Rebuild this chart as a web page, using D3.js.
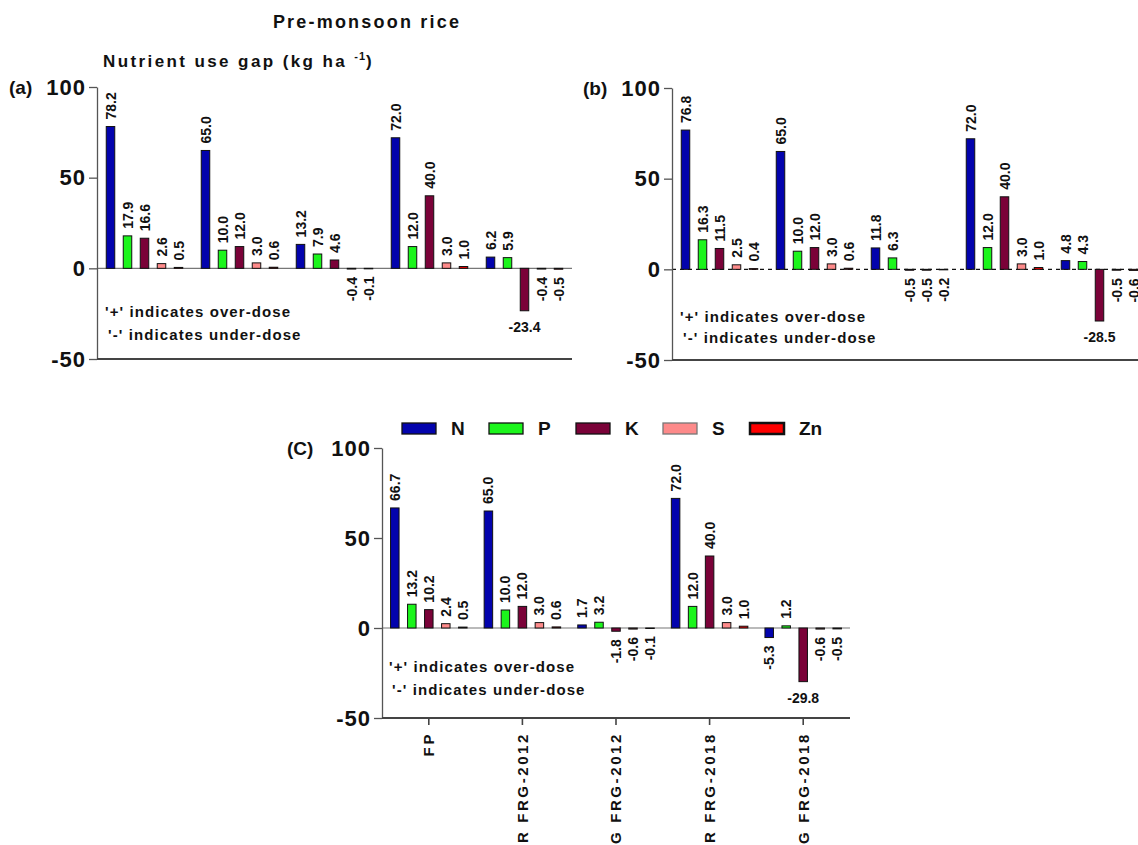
<!DOCTYPE html>
<html>
<head>
<meta charset="utf-8">
<script src="https://cdn.jsdelivr.net/npm/d3@7"></script>
<style>
  html, body { margin: 0; padding: 0; background: #fff; }
  svg { display: block; font-family: "Liberation Sans", Arial, sans-serif; }
</style>
</head>
<body>
<svg id="chart" width="1138" height="845"></svg>
<script>
// ---------------- DATA ----------------
const categories = ["FP", "R FRG-2012", "G FRG-2012", "R FRG-2018", "G FRG-2018"];
const nutrients = ["N", "P", "K", "S", "Zn"];
const yTicks = [-50, 0, 50, 100];

// values per nutrient (rows N,P,K,S,Zn) across categories
const panelA_N  = [78.2, 65.0, 13.2, 72.0, 6.2];
const panelA_P  = [17.9, 10.0, 7.9, 12.0, 5.9];
const panelA_K  = [16.6, 12.0, 4.6, 40.0, -23.4];
const panelA_S  = [2.6, 3.0, -0.4, 3.0, -0.4];
const panelA_Zn = [0.5, 0.6, -0.1, 1.0, -0.5];

const panelB_N  = [76.8, 65.0, 11.8, 72.0, 4.8];
const panelB_P  = [16.3, 10.0, 6.3, 12.0, 4.3];
const panelB_K  = [11.5, 12.0, -0.5, 40.0, -28.5];
const panelB_S  = [2.5, 3.0, -0.5, 3.0, -0.5];
const panelB_Zn = [0.4, 0.6, -0.2, 1.0, -0.6];

const panelC_N  = [66.7, 65.0, 1.7, 72.0, -5.3];
const panelC_P  = [13.2, 10.0, 3.2, 12.0, 1.2];
const panelC_K  = [10.2, 12.0, -1.8, 40.0, -29.8];
const panelC_S  = [2.4, 3.0, -0.6, 3.0, -0.6];
const panelC_Zn = [0.5, 0.6, -0.1, 1.0, -0.5];

const noteLines = ["'+' indicates over-dose", "'-' indicates under-dose"];

// ---------------- STYLE ----------------
const colors = {N: "#0303ad", P: "#1cf51c", K: "#7a0238", S: "#fd8a8a", Zn: "#ff0000"};

const svg = d3.select("#chart");

// Titles
svg.append("text").attr("x", 367).attr("y", 28).attr("text-anchor", "middle")
  .attr("font-size", 18).attr("font-weight", "bold").attr("letter-spacing", 2.2)
  .attr("fill", "#111").text("Pre-monsoon rice");

const sub = svg.append("text").attr("x", 103).attr("y", 67)
  .attr("font-size", 17).attr("font-weight", "bold").attr("letter-spacing", 2.4).attr("fill", "#111");
sub.append("tspan").text("Nutrient use gap (kg ha ");
sub.append("tspan").attr("font-size", 11).attr("letter-spacing", 1).attr("dy", -7).text("-1");
sub.append("tspan").attr("dy", 7).text(")");

function drawPanel(cfg, series) {
  const g = svg.append("g");
  const y = d3.scaleLinear().domain([-50, 100]).range([cfg.yBot, cfg.yTop]);
  const x = d3.scaleBand().domain(categories).range([cfg.x0, cfg.x1]);
  const bw = x.bandwidth();
  const xi = d3.scaleBand().domain(nutrients)
    .range([bw / 2 - 42.5, bw / 2 + 42.5]).paddingInner(0.5).paddingOuter(0.25);

  // zero line
  g.append("line").attr("x1", cfg.x0).attr("x2", cfg.x1).attr("y1", y(0)).attr("y2", y(0))
    .attr("stroke", cfg.zeroDash ? "#111" : "#777")
    .attr("stroke-width", cfg.zeroDash ? 1.4 : 1.2)
    .attr("stroke-dasharray", cfg.zeroDash ? "4,4" : null);

  // bars
  const rows = [];
  nutrients.forEach((n, ni) => categories.forEach((c, ci) => rows.push({n, c, v: series[ni][ci]})));
  g.selectAll("rect.bar").data(rows).join("rect").attr("class", "bar")
    .attr("x", d => x(d.c) + xi(d.n))
    .attr("width", xi.bandwidth())
    .attr("y", d => Math.min(y(d.v), y(0)))
    .attr("height", d => Math.max(Math.abs(y(d.v) - y(0)), 0.5))
    .attr("fill", d => colors[d.n])
    .attr("stroke", "#111").attr("stroke-width", 1);

  // value labels
  g.selectAll("text.val").data(rows).join("text").attr("class", "val")
    .attr("font-size", 14).attr("font-weight", "bold").attr("fill", "#111")
    .each(function(d) {
      const cx = x(d.c) + xi(d.n) + xi.bandwidth() / 2;
      const t = d3.select(this).text(d.v.toFixed(1));
      if (d.v >= 0) {
        const yy = y(d.v) - 7;
        t.attr("transform", `translate(${cx},${yy}) rotate(-90)`).attr("text-anchor", "start").attr("dy", "0.36em");
      } else if (d.v > -15) {
        const yy = y(d.v) + 8;
        t.attr("transform", `translate(${cx},${yy}) rotate(-90)`).attr("text-anchor", "end").attr("dy", "0.36em");
      } else {
        t.attr("x", cx).attr("y", y(d.v) + 21).attr("text-anchor", "middle");
      }
    });

  // y axis
  const ya = g.append("g").attr("transform", `translate(${cfg.x0},0)`)
    .call(d3.axisLeft(y).tickValues(yTicks).tickSize(8).tickSizeOuter(0).tickPadding(3).tickFormat(d => String(d)));
  ya.select(".domain").attr("stroke", "#555").attr("stroke-width", 1.3);
  ya.selectAll(".tick line").attr("stroke", "#555").attr("stroke-width", 1.3);
  ya.selectAll(".tick text").attr("font-size", 22).attr("font-weight", "bold")
    .attr("letter-spacing", 1).attr("fill", "#111").attr("font-family", "Liberation Sans, Arial, sans-serif");

  // bottom axis line
  g.append("line").attr("x1", cfg.x0).attr("x2", cfg.x1).attr("y1", y(-50)).attr("y2", y(-50))
    .attr("stroke", "#444").attr("stroke-width", 2);

  if (cfg.xLabels) {
    const xa = g.append("g").attr("transform", `translate(0,${y(-50)})`)
      .call(d3.axisBottom(x).tickSize(7).tickSizeOuter(0));
    xa.select(".domain").remove();
    xa.selectAll(".tick line").attr("stroke", "#444").attr("stroke-width", 1.6);
    xa.selectAll(".tick text")
      .attr("transform", "rotate(-90)").attr("text-anchor", "end")
      .attr("x", -14).attr("y", 0).attr("dy", "0.36em")
      .attr("font-size", 15).attr("font-weight", "bold").attr("letter-spacing", 2.6)
      .attr("fill", "#111").attr("font-family", "Liberation Sans, Arial, sans-serif");
  }

  // panel letter
  g.append("text").attr("x", cfg.letterX).attr("y", y(100) + 7)
    .attr("font-size", 19).attr("font-weight", "bold").attr("fill", "#111").text(cfg.letter);

  // notes
  noteLines.forEach((s, i) => {
    g.append("text").attr("x", cfg.x0 + cfg.noteDx[i]).attr("y", y(cfg.noteY[i]) + 5)
      .attr("font-size", 15).attr("font-weight", "bold").attr("letter-spacing", 1.1)
      .attr("fill", "#111").text(s);
  });
}

drawPanel({x0: 97, x1: 572, yTop: 87, yBot: 359, letter: "(a)", letterX: 9,
  noteDx: [8, 11], noteY: [-24, -37], zeroDash: false, xLabels: false},
  [panelA_N, panelA_P, panelA_K, panelA_S, panelA_Zn]);

drawPanel({x0: 672, x1: 1147, yTop: 88, yBot: 360, letter: "(b)", letterX: 583,
  noteDx: [8, 11], noteY: [-26.4, -38], zeroDash: true, xLabels: false},
  [panelB_N, panelB_P, panelB_K, panelB_S, panelB_Zn]);

drawPanel({x0: 382, x1: 850, yTop: 448, yBot: 718, letter: "(C)", letterX: 287,
  noteDx: [7, 10], noteY: [-21.7, -34.4], zeroDash: false, xLabels: true},
  [panelC_N, panelC_P, panelC_K, panelC_S, panelC_Zn]);

// legend
const leg = svg.append("g");
nutrients.forEach((n, i) => {
  const lx = 402 + i * 87;
  leg.append("rect").attr("x", lx).attr("y", 423).attr("width", 34).attr("height", 11)
    .attr("fill", colors[n]).attr("stroke", n === "S" ? "#777" : "#111")
    .attr("stroke-width", n === "Zn" ? 2.5 : 1.3);
  leg.append("text").attr("x", lx + 49).attr("y", 435).attr("font-size", 19)
    .attr("font-weight", "bold").attr("fill", "#111").text(n);
});
</script>
</body>
</html>
